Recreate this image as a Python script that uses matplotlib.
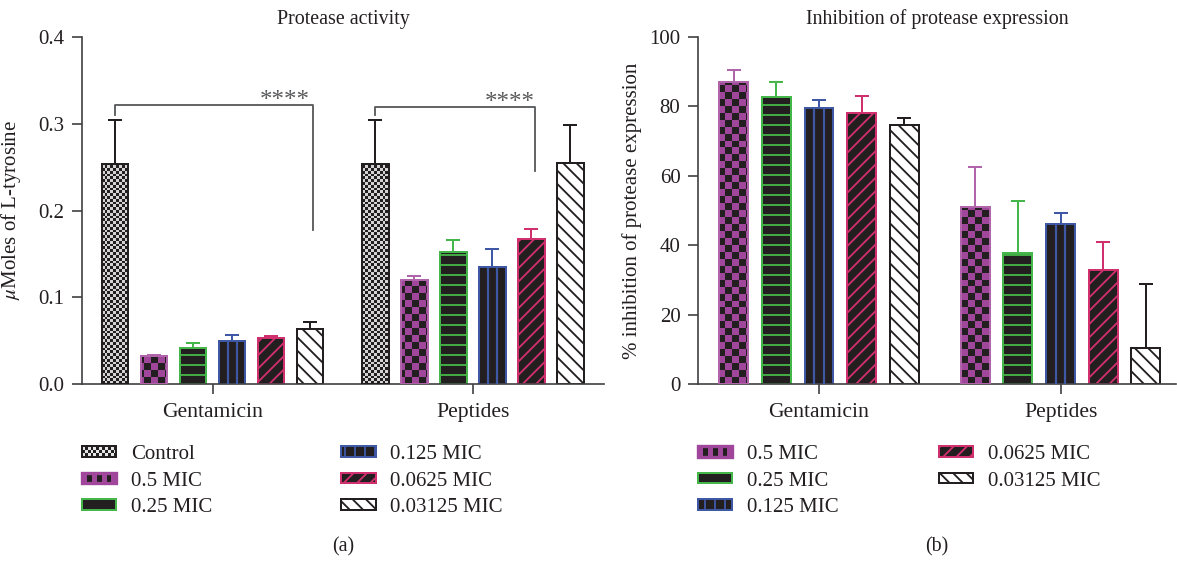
import numpy as np
import matplotlib
matplotlib.use("Agg")
import matplotlib.pyplot as plt
from matplotlib.colors import ListedColormap
from matplotlib.patches import Patch, Rectangle
from matplotlib.legend_handler import HandlerBase

plt.rcParams['font.family'] = ['Liberation Serif', 'DejaVu Serif']
plt.rcParams['mathtext.fontset'] = 'stix'
plt.rcParams['hatch.linewidth'] = 1.1

W, H, DPI = 1177, 563, 120
INK = "#231f20"
AXC = "#414042"

groups = ["Gentamicin", "Peptides"]

# panel (a): protease activity (umol L-tyrosine), mean and SD
series_a = ["Control", "0.5 MIC", "0.25 MIC", "0.125 MIC", "0.0625 MIC", "0.03125 MIC"]
activity_gentamicin = [0.254, 0.032, 0.042, 0.050, 0.053, 0.063]
activity_gentamicin_sd = [0.050, 0.002, 0.005, 0.006, 0.002, 0.008]
activity_peptides = [0.254, 0.120, 0.152, 0.135, 0.167, 0.255]
activity_peptides_sd = [0.050, 0.005, 0.014, 0.021, 0.012, 0.043]

# panel (b): % inhibition of protease expression
series_b = ["0.5 MIC", "0.25 MIC", "0.125 MIC", "0.0625 MIC", "0.03125 MIC"]
inhibition_gentamicin = [87.1, 82.6, 79.6, 78.2, 74.6]
inhibition_gentamicin_sd = [3.4, 4.5, 2.2, 4.9, 2.1]
inhibition_peptides = [51.1, 37.8, 46.1, 32.9, 10.5]
inhibition_peptides_sd = [11.5, 15.0, 3.3, 8.0, 18.4]

# significance brackets in (a): (group, first bar, last bar, top, left drop, right drop)
brackets = [(0, 0, 5, 0.322, 0.310, 0.177), (1, 0, 4, 0.319, 0.310, 0.245)]
stars_x = [4.36, 3.45]
stars_y = [0.3195, 0.317]

styles = {
    "Control": dict(face="#d4d4d4", edge=INK, hatch=None, checker=("#d4d4d4", INK, 2.8)),
    "0.5 MIC": dict(face="#a0479c", edge="#b065aa", hatch=None, checker=("#a0479c", INK, 6.9)),
    "0.25 MIC": dict(face=INK, edge="#45b649", hatch="--"),
    "0.125 MIC": dict(face=INK, edge="#3e58a6", hatch=None, vlines=True),
    "0.0625 MIC": dict(face=INK, edge="#d1306e", hatch="///"),
    "0.03125 MIC": dict(face="white", edge=INK, hatch="\\\\\\"),
}


class CheckerHandler(HandlerBase):
    def __init__(self, c1, c2, edge, nx, ny, lw=1.2):
        super().__init__()
        self.c1, self.c2, self.edge, self.nx, self.ny, self.lw = c1, c2, edge, nx, ny, lw

    def create_artists(self, legend, orig_handle, xdescent, ydescent, width, height, fontsize, trans):
        x0, y0 = -xdescent, -ydescent
        arts = [Rectangle((x0, y0), width, height, facecolor=self.c1, edgecolor='none', transform=trans)]
        cw, ch = width / self.nx, height / self.ny
        for i in range(self.nx):
            for j in range(self.ny):
                if (i + j) % 2:
                    arts.append(Rectangle((x0 + i * cw, y0 + j * ch), cw, ch, facecolor=self.c2,
                                          edgecolor='none', transform=trans))
        arts.append(Rectangle((x0, y0), width, height, facecolor='none', edgecolor=self.edge,
                              lw=self.lw, transform=trans))
        return arts


def draw_panel(ax, names, gent, gent_sd, pep, pep_sd, offset, xlim, ylim, width=0.68):
    ax.set_xlim(*xlim)
    ax.set_ylim(*ylim)
    bb = ax.get_position()
    for i, name in enumerate(names):
        st = styles[name]
        x = np.array([i, offset + i])
        y = np.array([gent[i], pep[i]])
        sd = np.array([gent_sd[i], pep_sd[i]])
        ax.errorbar(x, y, yerr=[np.zeros(2), sd], fmt='none', ecolor=st["edge"],
                    elinewidth=1.2, capsize=4, capthick=1.2, zorder=1)
        bars = ax.bar(x, y, width, color=st["face"], edgecolor=st["edge"],
                      hatch=st["hatch"], lw=1.2, zorder=2)
        if "checker" in st:
            c1, c2, cell = st["checker"]
            nc = int(round(bb.width * W / cell))
            nr = int(round(bb.height * H / cell))
            board = np.indices((nr, nc)).sum(axis=0) % 2
            for rect in bars:
                im = ax.imshow(board, cmap=ListedColormap([c1, c2]), extent=(*xlim, *ylim),
                               origin='lower', aspect='auto', interpolation='nearest', zorder=2.5)
                im.set_clip_path(rect)
            ax.bar(x, y, width, fill=False, edgecolor=st["edge"], lw=1.2, zorder=3)
        if st.get("vlines"):
            for xi, yi in zip(x, y):
                ax.vlines([xi - width / 6, xi + width / 6], 0, yi, color=st["edge"], lw=1.3, zorder=3)
    ax.set_xlim(*xlim)
    ax.set_ylim(*ylim)
    ax.set_xticks([(len(names) - 1) / 2, offset + (len(names) - 1) / 2])
    ax.set_xticklabels(groups, fontsize=13)
    for s in ["top", "right"]:
        ax.spines[s].set_visible(False)
    for s in ["left", "bottom"]:
        ax.spines[s].set_color(AXC)
        ax.spines[s].set_linewidth(1.0)
    ax.tick_params(axis='both', direction='out', length=6, width=1.0, color=AXC, labelcolor=INK)
    ax.tick_params(axis='x', pad=5.5)
    ax.tick_params(axis='y', labelsize=12.5, pad=4.5)


def legend_handles(names):
    handles, hmap = [], {}
    for name in names:
        st = styles[name]
        if name == "Control":
            p = Patch(label=name)
            hmap[p] = CheckerHandler("#e6e6e6", INK, INK, 12, 3)
        elif name == "0.5 MIC":
            p = Patch(label=name)
            hmap[p] = CheckerHandler("#a0479c", INK, "#a0479c", 7, 1, lw=2)
        elif name == "0.125 MIC":
            p = Patch(facecolor=INK, edgecolor=st["edge"], hatch="||", lw=1.2, label=name)
        elif name == "0.25 MIC":
            p = Patch(facecolor=INK, edgecolor=st["edge"], lw=1.2, label=name)
        else:
            p = Patch(facecolor=st["face"], edgecolor=st["edge"], hatch=st["hatch"], lw=1.2, label=name)
        handles.append(p)
    return handles, hmap


fig = plt.figure(figsize=(W / DPI, H / DPI), dpi=DPI)
ax_a = fig.add_axes([82 / W, 1 - 384 / H, (604 - 82) / W, (384 - 37) / H])
ax_b = fig.add_axes([698 / W, 1 - 384 / H, (1176 - 698) / W, (384 - 37) / H])

draw_panel(ax_a, series_a, activity_gentamicin, activity_gentamicin_sd,
           activity_peptides, activity_peptides_sd, 6.67, (-0.85, 12.53), (0, 0.4))
draw_panel(ax_b, series_b, inhibition_gentamicin, inhibition_gentamicin_sd,
           inhibition_peptides, inhibition_peptides_sd, 5.67, (-0.84, 10.38), (0, 100))

ax_a.set_yticks(np.arange(0, 0.41, 0.1))
ax_a.set_yticklabels([f"{v:.1f}" for v in np.arange(0, 0.41, 0.1)])
ax_b.set_yticks(np.arange(0, 101, 20))

for g, i0, i1, top, d0, d1 in brackets:
    off = 6.67 * g
    ax_a.plot([off + i0, off + i0, off + i1 + 0.08, off + i1 + 0.08], [d0, top, top, d1],
              color="#58595b", lw=1.1, zorder=4)
for g, sx, sy in zip(range(2), stars_x, stars_y):
    ax_a.text(6.67 * g + sx, sy, "****", ha='center', va='baseline',
              fontsize=15, color="#58595b")

ax_a.set_title("Protease activity", fontsize=12, color=INK, pad=8)
ax_b.set_title("Inhibition of protease expression", fontsize=12, color=INK, pad=8)
ax_a.set_ylabel(r"$\mu$Moles of L-tyrosine", fontsize=12.5, color=INK)
ax_b.set_ylabel("% inhibition of protease expression", fontsize=12.5, color=INK)
ax_a.yaxis.set_label_coords(-0.113, 0.5)
ax_b.yaxis.set_label_coords(-0.117, 0.5)

ha, hma = legend_handles(series_a)
leg_a = fig.legend(handles=ha, handler_map=hma, loc='upper left', ncol=2,
                   bbox_to_anchor=(82 / W, 1 - 445 / H), frameon=False, fontsize=12.5,
                   borderpad=0, borderaxespad=0, handlelength=1.65, handleheight=0.42,
                   handletextpad=0.7, labelspacing=0.36, columnspacing=6.2)
hb, hmb = legend_handles(series_b)
leg_b = fig.legend(handles=hb, handler_map=hmb, loc='upper left', ncol=2,
                   bbox_to_anchor=(698 / W, 1 - 445 / H), frameon=False, fontsize=12.5,
                   borderpad=0, borderaxespad=0, handlelength=1.65, handleheight=0.42,
                   handletextpad=0.7, labelspacing=0.36, columnspacing=4.8)
for leg in (leg_a, leg_b):
    for t in leg.get_texts():
        t.set_color(INK)

fig.text(343 / W, 1 - 547 / H, "(a)", ha='center', va='center', fontsize=12, color=INK)
fig.text(937 / W, 1 - 547 / H, "(b)", ha='center', va='center', fontsize=12, color=INK)

fig.savefig("out.png", dpi=DPI)
